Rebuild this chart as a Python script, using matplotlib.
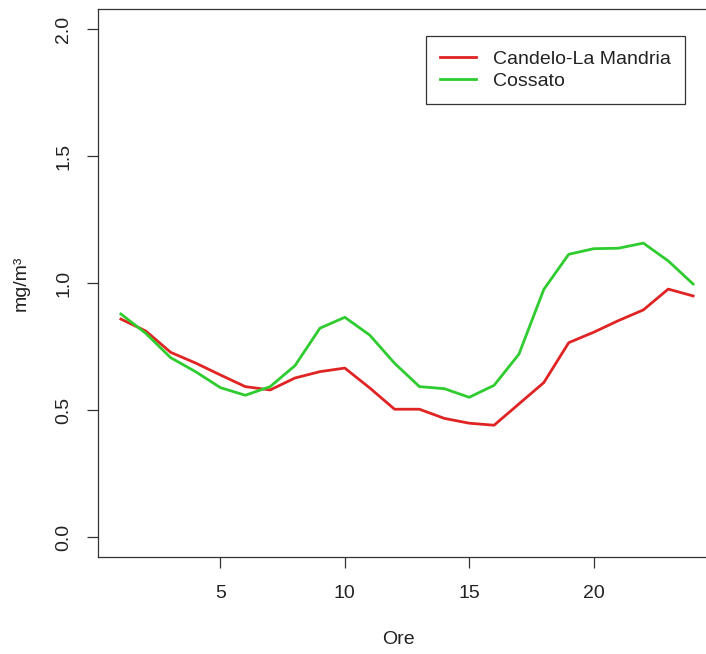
import matplotlib
matplotlib.use('Agg')
import matplotlib.pyplot as plt

# hourly mean values (mg/m3)
ore = list(range(1, 25))
candelo = [0.858, 0.811, 0.727, 0.685, 0.638, 0.592, 0.579, 0.626, 0.651, 0.665,
           0.587, 0.503, 0.503, 0.467, 0.448, 0.440, 0.524, 0.608, 0.765, 0.806,
           0.852, 0.894, 0.976, 0.949]
cossato = [0.878, 0.802, 0.706, 0.651, 0.588, 0.558, 0.592, 0.675, 0.822, 0.865,
           0.795, 0.684, 0.592, 0.584, 0.550, 0.597, 0.720, 0.975, 1.113, 1.135,
           1.137, 1.157, 1.087, 0.996]
series_names = ['Candelo-La Mandria', 'Cossato']
x_ticks = [5, 10, 15, 20]
y_ticks = [0.0, 0.5, 1.0, 1.5, 2.0]

plt.rcParams['font.family'] = ['Liberation Sans', 'DejaVu Sans']
fs = 14

W, H = 706, 654
fig = plt.figure(figsize=(W / 100, H / 100), dpi=100)
# plot box: left 98px, right ~716px (off canvas), top ~8.7px, bottom ~557px
ax = fig.add_axes([98 / W, 1 - 557.3 / H, (716 - 98) / W, (557.3 - 8.7) / H])

ax.plot(ore, candelo, color='#e02424', linewidth=2.0, label=series_names[0])
ax.plot(ore, cossato, color='#2ecc2e', linewidth=2.0, label=series_names[1])

ax.set_xlim(0.08, 24.92)
ax.set_ylim(-0.08, 2.08)
ax.set_xticks(x_ticks)
ax.set_xticklabels([str(v) for v in x_ticks])
ax.set_yticks(y_ticks)
ax.set_yticklabels([f'{v:.1f}' for v in y_ticks])

for s in ax.spines.values():
    s.set_color('#333333')
    s.set_linewidth(0.9)

ax.tick_params(axis='both', direction='out', length=8.1, width=0.9,
               color='#333333', labelsize=fs, labelcolor='#222222')
ax.tick_params(axis='x', pad=12)
ax.tick_params(axis='y', pad=10.5, labelrotation=90)
for lbl in ax.get_yticklabels():
    lbl.set_verticalalignment('center')

fig.text(398 / W, 1 - 640 / H, 'Ore', ha='center', va='center',
         fontsize=fs, color='#222222')
fig.text(21 / W, 1 - 283 / H, 'mg/m³', ha='center', va='center',
         rotation=90, fontsize=fs, color='#222222')

leg = ax.legend(loc='upper right', bbox_to_anchor=(685 / W, 1 - 36 / H),
                bbox_transform=fig.transFigure, borderaxespad=0,
                fontsize=fs, frameon=True, fancybox=False, shadow=False,
                handlelength=1.85, handletextpad=0.87, borderpad=0.72,
                labelspacing=0.22)
frame = leg.get_frame()
frame.set_edgecolor('#333333')
frame.set_linewidth(0.9)
frame.set_alpha(1)
for t in leg.get_texts():
    t.set_color('#222222')

fig.savefig('out.png', dpi=100)
